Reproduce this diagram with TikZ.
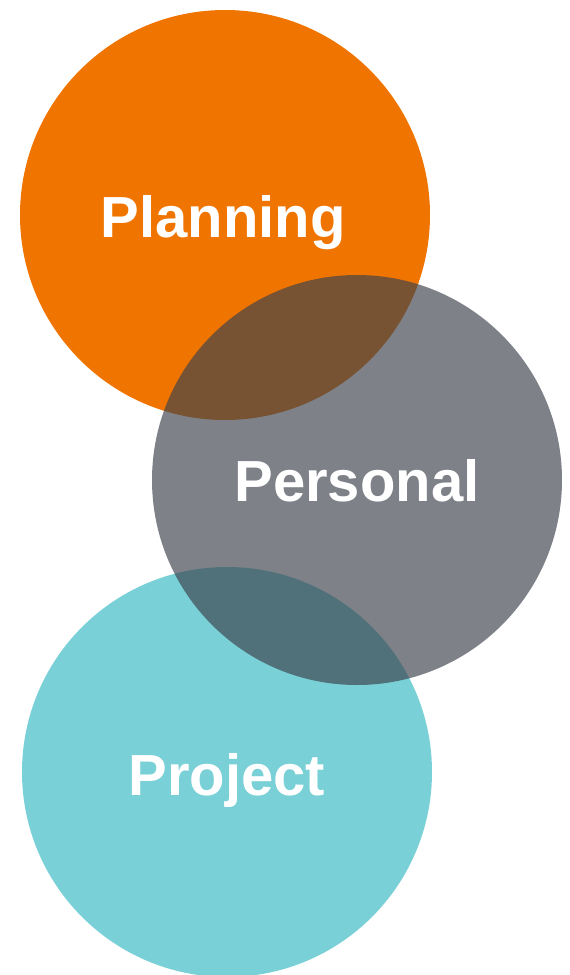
\documentclass[tikz,border=0pt]{standalone}
\usepackage{fontspec}
\setmainfont{Liberation Sans}
\definecolor{planorange}{RGB}{240,116,0}
\definecolor{projcyan}{RGB}{121,208,214}
\definecolor{persgray}{RGB}{62,67,77}
\tikzset{disc/.style={circle, minimum size=410pt, inner sep=0pt, draw=none},
         tag/.style={text=white, anchor=base, inner sep=0pt,
                     font=\fontsize{58}{62}\selectfont\bfseries}}
\begin{document}
\begin{tikzpicture}[x=1pt, y=-1pt]
    \useasboundingbox (0,0) rectangle (570,975);
    % the three discs, grey one see-through on top
    \node[disc, fill=planorange] (planning) at (225,215) {};
    \node[disc, fill=projcyan] (project) at (227,772) {};
    \node[disc, fill=persgray, fill opacity=0.67] (personal) at (357,480) {};

    \node[tag] (planningtag) at ([xshift=-2pt, yshift=-22pt]planning.center) {Planning};
    \node[tag] (personaltag) at ([yshift=-21pt]personal.center) {Personal};
    \node[tag] (projecttag) at ([yshift=-23pt]project.center) {Project};
\end{tikzpicture}
\end{document}
